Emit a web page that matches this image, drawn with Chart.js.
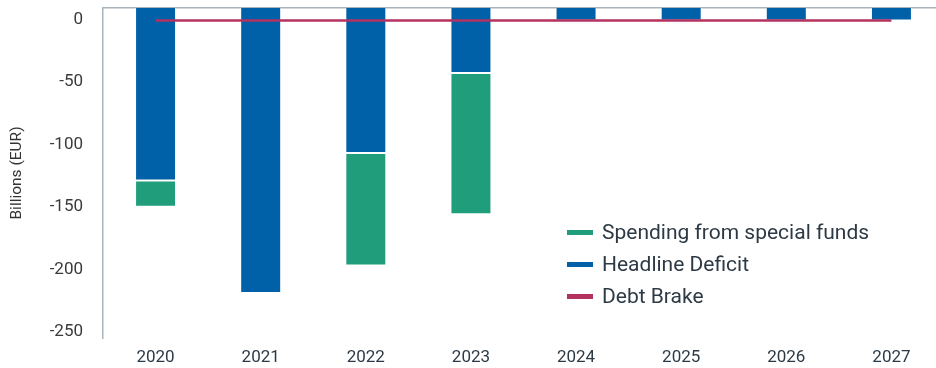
<!DOCTYPE html>
<html>
<head>
<meta charset="utf-8">
<script src="https://cdn.jsdelivr.net/npm/chart.js@4.4.1/dist/chart.umd.min.js"></script>
<style>
  html, body { margin: 0; padding: 0; background: #fff; overflow: hidden; }
  .wrap { position: relative; width: 944px; height: 368px; }
  .legend { position: absolute; left: 567px; top: 216px; font: 21px Roboto, sans-serif; color: #2d3a46; }
  .legend div { height: 32px; line-height: 32px; white-space: nowrap; }
  .legend span { display: inline-block; width: 26px; height: 5px; margin-right: 9px; vertical-align: middle; position: relative; top: -1px; }
</style>
</head>
<body>
<div class="wrap">
  <canvas id="deficitChart" width="944" height="368"></canvas>
  <div class="legend" id="legend"></div>
</div>
<script>
// Federal deficit vs. debt brake, billions of euros
const years = ['2020', '2021', '2022', '2023', '2024', '2025', '2026', '2027'];
const headlineDeficit = [-129, -219, -107, -43, -1, -1, -1, -1];
const specialFunds = [-21, null, -90, -113, null, null, null, null];
const debtBrake = [-1, -1, -1, -1, -1, -1, -1, -1];
const yTicks = [0, -50, -100, -150, -200, -250];
const yMin = -255;
const yMax = 9;

const textColor = '#2d3a46';
const axisColor = '#aab4bc';

const chart = new Chart(document.getElementById('deficitChart').getContext('2d'), {
    type: 'bar',
    data: {
        labels: years,
        datasets: [{
            label: 'Headline Deficit',
            data: headlineDeficit,
            backgroundColor: '#0060a8',
            borderColor: 'rgba(255,255,255,0.6)',
            borderWidth: 1,
            base: yMax, // bars hang from the top axis
            stack: 'deficit',
            order: 1
        }, {
            label: 'Spending from special funds',
            data: specialFunds,
            backgroundColor: '#209e7b',
            borderColor: 'rgba(255,255,255,0.8)',
            borderWidth: 1,
            borderSkipped: false,
            stack: 'deficit',
            order: 1
        }, {
            type: 'line',
            label: 'Debt Brake',
            data: debtBrake,
            borderColor: '#b4325f',
            backgroundColor: '#b4325f',
            borderWidth: 2.5,
            pointRadius: 0,
            stack: 'brake',
            order: 0
        }]
    },
    options: {
        responsive: false,
        animation: false,
        layout: { padding: { top: 8, right: 0, bottom: 0, left: 0 } },
        datasets: {
            bar: { categoryPercentage: 1, barPercentage: 0.39 }
        },
        scales: {
            x: {
                stacked: true,
                afterFit: (scale) => {
                    scale.height = 30;
                    scale.paddingTop = 0;
                    scale.paddingBottom = 0;
                },
                grid: { display: false, drawTicks: false },
                border: { display: false },
                ticks: { color: textColor, font: { family: 'Roboto', size: 17 }, padding: 10, maxRotation: 0 }
            },
            xTop: {
                type: 'category',
                position: 'top',
                grid: { display: false, drawTicks: false },
                border: { display: true, color: axisColor, width: 1.5 },
                ticks: { display: false }
            },
            y: {
                stacked: true,
                min: yMin,
                max: yMax,
                afterBuildTicks: (scale) => { scale.ticks = yTicks.map(v => ({ value: v })); },
                afterFit: (scale) => {
                    scale.width = 103;
                    // tick labels sit well inside the range, no extra room needed above/below
                    scale.paddingTop = 0;
                    scale.paddingBottom = 0;
                },
                grid: { display: false, drawTicks: false },
                border: { display: true, color: axisColor, width: 1.5 },
                ticks: { color: '#3a3a3a', font: { family: 'Roboto', size: 17 }, padding: 20 },
                title: {
                    display: true,
                    text: 'Billions (EUR)',
                    color: '#333',
                    font: { family: 'Roboto', size: 15.5 },
                    padding: { top: 8, bottom: 0 }
                }
            }
        },
        plugins: {
            legend: { display: false },
            tooltip: { enabled: false }
        }
    }
});

// Legend in the order it is read: special funds, headline deficit, debt brake
const legendOrder = [1, 0, 2];
document.getElementById('legend').innerHTML = legendOrder.map(i => {
    const ds = chart.data.datasets[i];
    const color = ds.type === 'line' ? ds.borderColor : ds.backgroundColor;
    return '<div><span style="background:' + color + '"></span>' + ds.label + '</div>';
}).join('');
</script>
</body>
</html>
